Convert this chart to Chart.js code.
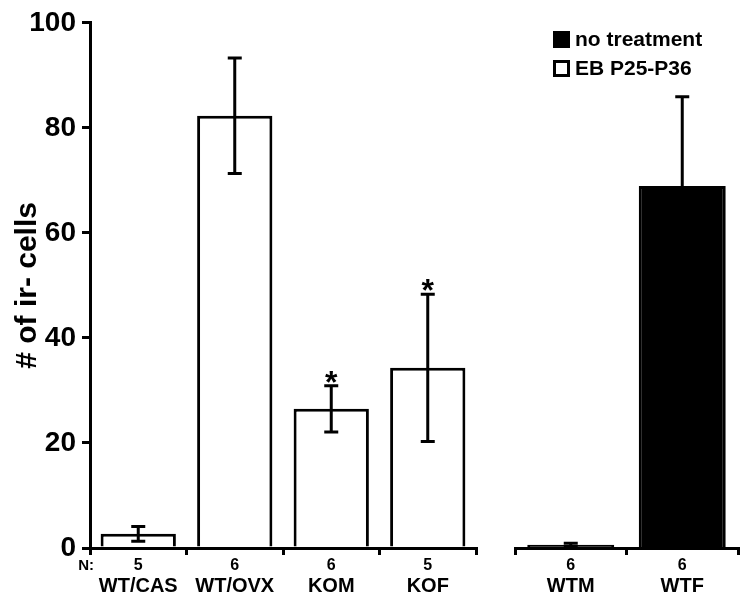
<!DOCTYPE html>
<html>
<head>
<meta charset="utf-8">
<script src="https://cdn.jsdelivr.net/npm/chart.js@4.4.0/dist/chart.umd.min.js"></script>
<style>
body { margin: 0; background: #fff; }
#wrap { position: relative; width: 750px; height: 601px; font-family: "Liberation Sans", Arial, sans-serif; font-weight: bold; }
#left { position: absolute; left: 0; top: 0; }
#right { position: absolute; left: 500px; top: 0; }
.legend { position: absolute; left: 553px; font-size: 21px; line-height: 22px; white-space: nowrap; }
.legend .box { display: inline-block; width: 17px; height: 17px; box-sizing: border-box; border: 3px solid #000; vertical-align: -2px; margin-right: 5px; }
</style>
</head>
<body>
<div id="wrap">
  <canvas id="left" width="500" height="601"></canvas>
  <canvas id="right" width="250" height="601"></canvas>
  <div class="legend" style="top:28px"><span class="box" style="background:#000"></span>no treatment</div>
  <div class="legend" style="top:57px"><span class="box" style="background:#fff"></span>EB P25-P36</div>
</div>
<script>
// treated groups (EB P25-P36)
const groupsA = ['WT/CAS', 'WT/OVX', 'KOM', 'KOF'];
const nA = [5, 6, 6, 5];
const meansA = [2.7, 82.3, 26.5, 34.3];
const errA = [1.4, 11, 4.4, 14];
const starsA = ['', '', '*', '*'];

// untreated groups
const groupsB = ['WTM', 'WTF'];
const nB = [6, 6];
const meansB = [0.6, 68.8];
const errB = [0.3, 17];
const starsB = ['', ''];

const yTicks = [0, 20, 40, 60, 80, 100];

const FONT = '"Liberation Sans", Arial, sans-serif';

// error bars, stars and the N row under the axis
const extras = {
  id: 'extras',
  afterDraw(chart, args, opts) {
    const ctx = chart.ctx;
    const x = chart.scales.x, y = chart.scales.y;
    const means = chart.data.datasets[0].data;
    ctx.save();
    ctx.strokeStyle = '#000';
    ctx.fillStyle = '#000';
    ctx.lineWidth = 3;
    means.forEach((m, i) => {
      const cx = x.getPixelForValue(i);
      const top = y.getPixelForValue(m + opts.err[i]);
      const bot = y.getPixelForValue(Math.max(m - opts.err[i], 0));
      ctx.beginPath();
      ctx.moveTo(cx, top); ctx.lineTo(cx, bot);
      ctx.moveTo(cx - 7, top); ctx.lineTo(cx + 7, top);
      ctx.moveTo(cx - 7, bot); ctx.lineTo(cx + 7, bot);
      ctx.stroke();
      if (opts.stars[i]) {
        ctx.font = 'bold 32px ' + FONT;
        ctx.textAlign = 'center';
        ctx.textBaseline = 'alphabetic';
        ctx.fillText(opts.stars[i], cx, top + 7);
      }
      ctx.font = 'bold 16px ' + FONT;
      ctx.textAlign = 'center';
      ctx.textBaseline = 'middle';
      ctx.fillText(String(opts.n[i]), cx, 566);
    });
    if (opts.nLabel) {
      ctx.font = 'bold 15px ' + FONT;
      ctx.textAlign = 'right';
      ctx.textBaseline = 'middle';
      ctx.fillText('N:', 94, 566);
    }
    ctx.restore();
  }
};

function xScale() {
  return {
    type: 'category',
    grid: { display: true, drawOnChartArea: false, drawTicks: true, tickLength: 7, lineWidth: 3, color: '#000', offset: true },
    border: { display: true, color: '#000', width: 3 },
    ticks: { color: '#000', font: { family: FONT, size: 20, weight: 'bold' }, padding: 19, maxRotation: 0, autoSkip: false },
    afterFit: s => { s.height = 53; }
  };
}

function yScale(show) {
  return {
    min: 0, max: 100,
    display: show,
    afterBuildTicks: s => { s.ticks = yTicks.map(v => ({ value: v })); },
    grid: { drawOnChartArea: false, tickLength: 8, lineWidth: 3, color: '#000' },
    border: { display: true, color: '#000', width: 3 },
    ticks: { color: '#000', font: { family: FONT, size: 28, weight: 'bold' }, padding: 6 },
    title: { display: true, text: '# of ir- cells', color: '#000', font: { family: FONT, size: 30, weight: 'bold' }, padding: { top: 10 } },
    afterFit: s => { s.width = show ? 90 : 0; }
  };
}

new Chart(document.getElementById('left'), {
  type: 'bar',
  data: {
    labels: groupsA,
    datasets: [{
      label: 'EB P25-P36',
      data: meansA,
      backgroundColor: '#fff',
      borderColor: '#000',
      borderWidth: 3,
      barPercentage: 0.78,
      categoryPercentage: 1
    }]
  },
  options: {
    responsive: false,
    animation: false,
    layout: { padding: { top: 22, right: 24, left: 0, bottom: 0 } },
    plugins: { legend: { display: false }, tooltip: { enabled: false },
      extras: { err: errA, stars: starsA, n: nA, nLabel: true } },
    scales: { x: xScale(), y: yScale(true) }
  },
  plugins: [extras]
});

new Chart(document.getElementById('right'), {
  type: 'bar',
  data: {
    labels: groupsB,
    datasets: [{
      label: 'no treatment',
      data: meansB,
      backgroundColor: '#000',
      borderColor: '#000',
      borderWidth: 3,
      barPercentage: 0.78,
      categoryPercentage: 1
    }]
  },
  options: {
    responsive: false,
    animation: false,
    layout: { padding: { top: 22, right: 12, left: 15, bottom: 0 } },
    plugins: { legend: { display: false }, tooltip: { enabled: false },
      extras: { err: errB, stars: starsB, n: nB, nLabel: false } },
    scales: { x: xScale(), y: yScale(false) }
  },
  plugins: [extras]
});
</script>
</body>
</html>
